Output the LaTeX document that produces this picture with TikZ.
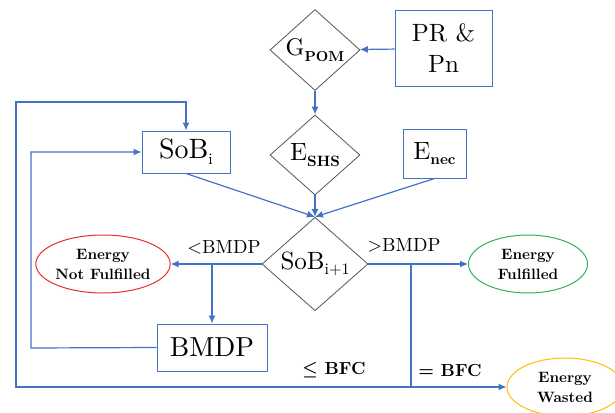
\documentclass[tikz,border=0pt]{standalone}
\usepackage{amsmath}
\usepackage{fontspec}
\setmainfont{lmroman10-regular.otf}[BoldFont=lmroman10-bold.otf]
\usetikzlibrary{shapes.geometric,arrows.meta,calc}
\definecolor{lblue}{HTML}{4472C4}
\definecolor{dgray}{HTML}{555555}
\definecolor{ered}{HTML}{E8302A}
\definecolor{egreen}{HTML}{2EB35A}
\definecolor{eyellow}{HTML}{FFC000}
\newcommand{\mysub}[2]{\raisebox{-0.22em}{\fontsize{#1}{#1}\selectfont #2}}
\tikzset{
  conn/.style={draw=lblue, line width=1.2pt},
  arr/.style={conn, -{Latex[length=8pt,width=7pt]}},
  decis/.style={diamond, draw=dgray, line width=0.8pt, inner sep=0pt, fill=white},
  procbox/.style={rectangle, draw=lblue, line width=1pt, inner sep=0pt, fill=white},
  endell/.style={ellipse, line width=1pt, inner sep=0pt, align=center, fill=white,
     font=\fontsize{15}{20}\selectfont\bfseries},
  lab/.style={inner sep=0pt, font=\fontsize{19}{22}\selectfont},
  blab/.style={inner sep=0pt, font=\fontsize{17.5}{20}\selectfont\bfseries}
}
\begin{document}
\begin{tikzpicture}[x=1pt,y=-1pt]
\useasboundingbox (0,0) rectangle (615,412);
% nodes
\node[decis, minimum width=90pt, minimum height=80pt, font=\fontsize{24}{26}\selectfont] (gpom) at (315,50) {G\mysub{14.5}{\bfseries POM}};
\node[procbox, minimum width=97pt, minimum height=75pt, align=center, font=\fontsize{25}{31}\selectfont] (pr) at (443.5,48.5) {PR \&\\Pn};
\node[decis, minimum width=90pt, minimum height=80pt, font=\fontsize{25}{28}\selectfont] (eshs) at (315,155) {E\mysub{15}{\bfseries SHS}};
\node[procbox, minimum width=63pt, minimum height=49pt, font=\fontsize{25}{28}\selectfont] (enec) at (434.5,153.5) {E\mysub{15}{\bfseries nec}};
\node[procbox, minimum width=88pt, minimum height=42pt, font=\fontsize{28}{30}\selectfont] (sobi) at (186,152) {SoB\mysub{16}{i}};
\node[decis, minimum width=106pt, minimum height=89pt, font=\fontsize{25}{28}\selectfont] (sob) at (315,264) {SoB\mysub{16}{i+1}};
\node[endell, draw=ered, minimum width=120pt, minimum height=58pt] (nf) at (103,264) {Energy\\Not Fulfilled};
\node[endell, draw=egreen, minimum width=119pt, minimum height=58pt] (ef) at (528,264) {Energy\\Fulfilled};
\node[endell, draw=eyellow, minimum width=116pt, minimum height=58pt] (ew) at (565,387) {Energy\\Wasted};
\node[procbox, minimum width=110pt, minimum height=47pt, font=\fontsize{27.5}{30}\selectfont] (bmdp) at (212,347.5) {BMDP};
% junction coordinates
\coordinate (j1) at (212,264);
\coordinate (j2) at (411,264);
\coordinate (j3) at (411,387);
\coordinate (c1) at (16,387);
\coordinate (c2) at (16,102);
\coordinate (c3) at (31,348);
% connectors
\draw[arr] (pr) -- (gpom);
\draw[arr] (gpom.south) -- (eshs.north);
\draw[arr] (eshs.south) -- (sob.north);
\draw[arr] (sobi.south) -- (sob.north);
\draw[arr] (enec.south) -- (sob.north);
\draw[arr] (sob.west) -- (nf.east);
\draw[arr] (j1) -- (bmdp.north);
\draw[arr] (sob.east) -- (ef.west);
\draw[conn] (j2) -- (j3);
\draw[arr] (j3) -- (ew.west);
\draw[arr] (j3) -- (c1) -- (c2) -| (sobi.north);
\draw[arr] (bmdp.west) -- (c3) |- (sobi.west);
% labels
\node[lab] (l1) at (224,247) {<BMDP};
\node[lab] (l2) at (404,245) {>BMDP};
\node[blab] (l3) at (334,370) {$\boldsymbol{\leq}$ BFC};
\node[blab] (l4) at (450,370) {= BFC};
\end{tikzpicture}
\end{document}
